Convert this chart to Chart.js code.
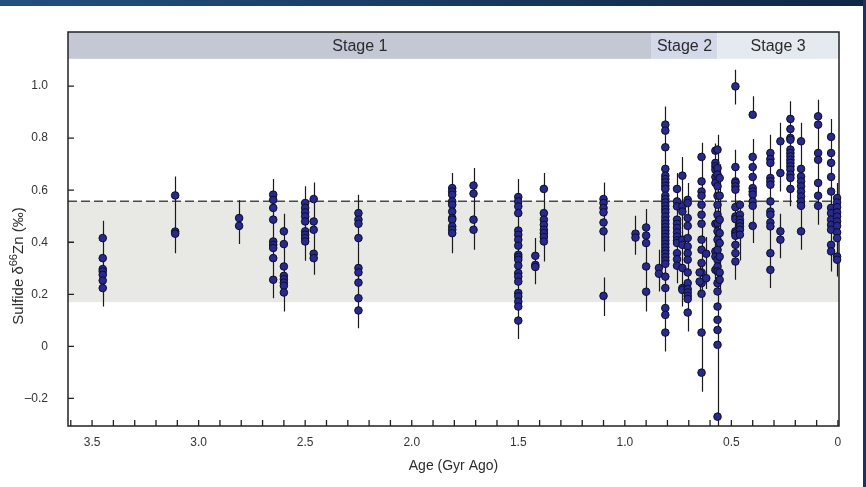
<!DOCTYPE html>
<html>
<head>
<meta charset="utf-8">
<script src="https://cdn.jsdelivr.net/npm/chart.js@4.4.0/dist/chart.umd.min.js"></script>
<style>
  html, body { margin: 0; padding: 0; background: #fff; }
  #wrap { position: relative; width: 866px; height: 487px; overflow: hidden; }
  #topbar { position: absolute; left: 0; top: 0; width: 866px; height: 6px; background: linear-gradient(to right, #21507f, #0f2647); }
  #sidebar { position: absolute; right: 0; top: 0; width: 3px; height: 487px; background: #16365f; }
</style>
</head>
<body>
<div id="wrap">
  <canvas id="zincChart" width="866" height="487"></canvas>
  <div id="topbar"></div>
  <div id="sidebar"></div>
</div>
<script>
// Edad de cada grupo de muestras (Gyr)
const sampleAges = [3.45, 3.11, 2.81, 2.65, 2.60, 2.50, 2.46, 2.25, 1.81, 1.71, 1.50, 1.42, 1.38, 1.10,
  0.95, 0.90, 0.84, 0.81, 0.755, 0.73, 0.705, 0.64, 0.649, 0.618, 0.575, 0.565, 0.555,
  0.481, 0.46, 0.40, 0.317, 0.27, 0.223, 0.173, 0.093, 0.032, 0.004];

// δ66Zn de cada grupo
const sampleValues = [
  [0.416, 0.339, 0.297, 0.288, 0.275, 0.253, 0.224],
  [0.58, 0.441, 0.433],
  [0.493, 0.463],
  [0.583, 0.563, 0.532, 0.487, 0.403, 0.39, 0.378, 0.339, 0.256],
  [0.442, 0.393, 0.307, 0.271, 0.258, 0.245, 0.233, 0.207],
  [0.551, 0.532, 0.515, 0.499, 0.48, 0.442, 0.429, 0.416, 0.403],
  [0.566, 0.48, 0.448, 0.356, 0.339],
  [0.512, 0.487, 0.471, 0.416, 0.301, 0.284, 0.245, 0.185, 0.138],
  [0.608, 0.595, 0.583, 0.557, 0.544, 0.518, 0.493, 0.487, 0.461, 0.448, 0.435],
  [0.618, 0.587, 0.487, 0.448],
  [0.574, 0.557, 0.538, 0.512, 0.445, 0.429, 0.41, 0.387, 0.352, 0.343, 0.333, 0.31, 0.282, 0.268, 0.249, 0.205, 0.192, 0.172, 0.153, 0.099],
  [0.348, 0.313, 0.305],
  [0.605, 0.512, 0.487, 0.467, 0.448, 0.435, 0.42, 0.403],
  [0.566, 0.551, 0.532, 0.515, 0.476, 0.442, 0.194],
  [0.433, 0.418],
  [0.457, 0.426, 0.397, 0.307, 0.21],
  [0.301, 0.279],
  [0.852, 0.829, 0.765, 0.682, 0.656, 0.643, 0.63, 0.617, 0.605, 0.579, 0.566, 0.553, 0.54, 0.527, 0.515, 0.499, 0.484, 0.471, 0.458, 0.445, 0.433, 0.42, 0.407, 0.394, 0.381, 0.368, 0.356, 0.343, 0.33, 0.317, 0.268, 0.224, 0.147, 0.121, 0.053],
  [0.605, 0.557, 0.538, 0.487, 0.471, 0.455, 0.438, 0.422, 0.407, 0.397, 0.358, 0.335, 0.31],
  [0.656, 0.538, 0.518, 0.41, 0.39, 0.301, 0.224, 0.217],
  [0.563, 0.551, 0.493, 0.463, 0.416, 0.384, 0.358, 0.333, 0.284, 0.243, 0.22, 0.207, 0.194, 0.182, 0.13],
  [0.728, 0.634, 0.595, 0.579, 0.544, 0.506, 0.471, 0.41, 0.371, 0.32, 0.284, 0.243, 0.202, 0.053, -0.101],
  [0.284, 0.249],
  [0.356, 0.262],
  [0.752, 0.705, 0.692, 0.679, 0.651, 0.628, 0.471, 0.365, 0.345, 0.294],
  [0.756, 0.685, 0.66, 0.615, 0.579, 0.544, 0.506, 0.474, 0.442, 0.41, 0.371, 0.333, 0.307, 0.288, 0.243, 0.211, 0.153, 0.102, 0.063, 0.006, -0.27],
  [0.647, 0.579, 0.487, 0.435, 0.397, 0.345, 0.284, 0.256],
  [0.999, 0.689, 0.634, 0.628, 0.615, 0.602, 0.535, 0.499, 0.489, 0.442, 0.435, 0.425, 0.39, 0.358, 0.326],
  [0.544, 0.506, 0.487, 0.474, 0.461, 0.448, 0.429],
  [0.89, 0.728, 0.689, 0.651, 0.608, 0.595, 0.583, 0.557, 0.54, 0.463],
  [0.743, 0.72, 0.705, 0.647, 0.634, 0.621, 0.557, 0.518, 0.506, 0.476, 0.461, 0.358, 0.294],
  [0.788, 0.666, 0.442, 0.41],
  [0.874, 0.835, 0.801, 0.794, 0.756, 0.743, 0.73, 0.717, 0.705, 0.692, 0.679, 0.66, 0.647, 0.605],
  [0.788, 0.682, 0.653, 0.634, 0.615, 0.595, 0.576, 0.557, 0.54, 0.442],
  [0.884, 0.852, 0.743, 0.717, 0.628, 0.579, 0.54],
  [0.805, 0.743, 0.705, 0.651, 0.595, 0.532, 0.512, 0.487, 0.467, 0.448, 0.39, 0.365],
  [0.57, 0.553, 0.535, 0.515, 0.499, 0.48, 0.463, 0.438, 0.416, 0.345, 0.333]
];

// Barras de error: [edad, mínimo, máximo]
const errorBars = [
  [3.45, 0.153, 0.483], [3.11, 0.358, 0.653], [2.81, 0.393, 0.561], [2.65, 0.185, 0.643],
  [2.60, 0.134, 0.51], [2.50, 0.329, 0.615], [2.46, 0.275, 0.63], [2.25, 0.07, 0.583],
  [1.81, 0.358, 0.666], [1.71, 0.371, 0.685], [1.50, 0.028, 0.643], [1.42, 0.239, 0.416],
  [1.38, 0.326, 0.666], [1.10, 0.365, 0.63], [1.10, 0.117, 0.265], [0.95, 0.352, 0.502],
  [0.90, 0.134, 0.528], [0.84, 0.211, 0.371], [0.81, -0.02, 0.922], [0.755, 0.243, 0.666],
  [0.73, 0.153, 0.728], [0.705, 0.057, 0.628], [0.64, -0.174, 0.782], [0.649, 0.2, 0.33],
  [0.618, 0.22, 0.42], [0.575, 0.25, 0.78], [0.565, -0.35, 0.813], [0.555, 0.22, 0.70],
  [0.481, 0.929, 1.063], [0.481, 0.256, 0.756], [0.46, 0.33, 0.56], [0.40, 0.878, 0.961],
  [0.40, 0.397, 0.797], [0.317, 0.224, 0.813], [0.27, 0.595, 0.859], [0.27, 0.339, 0.51],
  [0.223, 0.538, 0.942], [0.173, 0.371, 0.859], [0.093, 0.467, 0.948], [0.032, 0.288, 0.874],
  [0.004, 0.268, 0.628]
];

const stageNames = ['Stage 1', 'Stage 2', 'Stage 3'];
const stageBounds = [[3.613, 0.874], [0.874, 0.566], [0.566, -0.005]];
const stageColors = ['#c4c8d4', '#d3d9e9', '#e5e9f0'];
const stageBandFloor = 1.105;
const modernRange = [0.17, 0.558];
const dashedLevel = 0.558;

const xTickValues = [0, 0.1, 0.2, 0.3, 0.4, 0.5, 0.6, 0.7, 0.8, 0.9, 1.0, 1.1, 1.2, 1.3, 1.4, 1.5, 1.6, 1.7, 1.8,
  1.9, 2.0, 2.1, 2.2, 2.3, 2.4, 2.5, 2.6, 2.7, 2.8, 2.9, 3.0, 3.1, 3.2, 3.3, 3.4, 3.5, 3.6];
const xLabelValues = [3.5, 3.0, 2.5, 2.0, 1.5, 1.0, 0.5, 0];
const xLabelTexts = ['3.5', '3.0', '2.5', '2.0', '1.5', '1.0', '0.5', '0'];
const yTickValues = [-0.2, 0, 0.2, 0.4, 0.6, 0.8, 1.0];
const yTickTexts = ['\u20130.2', '0', '0.2', '0.4', '0.6', '0.8', '1.0'];

const fontFamily = "'Liberation Sans Narrow', 'Arial Narrow', 'Liberation Sans', Arial, sans-serif";
Chart.defaults.font.family = fontFamily;

const points = sampleAges.flatMap((age, i) => sampleValues[i].map(v => ({ x: age, y: v })));

// Fondo, franjas de etapas, marco, marcas y barras de error
const backdrop = {
  id: 'backdrop',
  beforeDatasetsDraw(chart) {
    const { ctx, chartArea: a, scales: { x, y } } = chart;
    ctx.save();
    const yTop = y.getPixelForValue(modernRange[1]);
    const yBot = y.getPixelForValue(modernRange[0]);
    ctx.fillStyle = '#e8e8e4';
    ctx.fillRect(a.left, yTop, a.right - a.left, yBot - yTop);

    ctx.strokeStyle = '#4a4a4a';
    ctx.lineWidth = 1.5;
    ctx.setLineDash([9, 4]);
    const yd = y.getPixelForValue(dashedLevel);
    ctx.beginPath();
    ctx.moveTo(a.left, yd);
    ctx.lineTo(a.right, yd);
    ctx.stroke();
    ctx.setLineDash([]);

    const yb = y.getPixelForValue(stageBandFloor);
    stageBounds.forEach((b, i) => {
      const x0 = x.getPixelForValue(b[0]);
      const x1 = x.getPixelForValue(b[1]);
      ctx.fillStyle = stageColors[i];
      ctx.fillRect(x0, a.top, x1 - x0, yb - a.top);
      ctx.fillStyle = '#2b2b2b';
      ctx.font = '16px ' + fontFamily;
      ctx.textAlign = 'center';
      ctx.textBaseline = 'middle';
      ctx.fillText(stageNames[i], (x0 + x1) / 2, (a.top + yb) / 2 + 1);
    });

    ctx.strokeStyle = '#222';
    ctx.lineWidth = 1.5;
    ctx.strokeRect(a.left, a.top, a.right - a.left, a.bottom - a.top);

    ctx.lineWidth = 1.3;
    ctx.beginPath();
    xTickValues.forEach(v => {
      const px = x.getPixelForValue(v);
      ctx.moveTo(px, a.bottom);
      ctx.lineTo(px, a.bottom - 6);
    });
    yTickValues.forEach(v => {
      const py = y.getPixelForValue(v);
      ctx.moveTo(a.left, py);
      ctx.lineTo(a.left + 6, py);
    });
    ctx.stroke();

    ctx.beginPath();
    ctx.rect(a.left, a.top, a.right - a.left, a.bottom - a.top);
    ctx.clip();
    ctx.strokeStyle = '#1a1a1a';
    ctx.lineWidth = 1.2;
    ctx.beginPath();
    errorBars.forEach(([age, lo, hi]) => {
      const px = Math.round(x.getPixelForValue(age)) + 0.5;
      ctx.moveTo(px, y.getPixelForValue(lo));
      ctx.lineTo(px, y.getPixelForValue(hi));
    });
    ctx.stroke();
    ctx.restore();
  },
  afterDraw(chart) {
    // Título del eje Y con superíndice
    const { ctx } = chart;
    ctx.save();
    ctx.translate(19, 266);
    ctx.rotate(-Math.PI / 2);
    ctx.fillStyle = '#2b2b2b';
    ctx.textBaseline = 'middle';
    ctx.textAlign = 'left';
    const big = '15px ' + fontFamily, small = '11px ' + fontFamily;
    const parts = [['Sulfide \u03b4', big, 0], ['66', small, -5], ['Zn (\u2030)', big, 0]];
    let total = 0;
    parts.forEach(p => { ctx.font = p[1]; total += ctx.measureText(p[0]).width; });
    let cx = -total / 2;
    parts.forEach(p => {
      ctx.font = p[1];
      ctx.fillText(p[0], cx, p[2]);
      cx += ctx.measureText(p[0]).width;
    });
    ctx.restore();
  }
};

const ctx = document.getElementById('zincChart').getContext('2d');
new Chart(ctx, {
  type: 'scatter',
  data: {
    datasets: [{
      data: points,
      backgroundColor: '#27298c',
      borderColor: '#0d0d2a',
      borderWidth: 1,
      pointRadius: 3.8,
      clip: false
    }]
  },
  options: {
    responsive: false,
    animation: false,
    layout: { padding: { top: 32, right: 27, left: 0, bottom: 0 } },
    plugins: { legend: { display: false }, tooltip: { enabled: false } },
    scales: {
      x: {
        type: 'linear',
        reverse: true,
        min: -0.005,
        max: 3.613,
        afterBuildTicks: s => { s.ticks = xTickValues.map(v => ({ value: v })); },
        afterFit: s => { s.height = 61; },
        grid: { display: false, drawTicks: false },
        border: { display: false },
        ticks: {
          autoSkip: false,
          maxRotation: 0,
          padding: 9,
          color: '#333',
          font: { size: 12 },
          callback: v => {
            const i = xLabelValues.findIndex(l => Math.abs(l - v) < 1e-6);
            return i >= 0 ? xLabelTexts[i] : '';
          }
        },
        title: {
          display: true,
          text: 'Age (Gyr Ago)',
          color: '#2b2b2b',
          font: { size: 14 },
          padding: { top: 0, bottom: 12 }
        }
      },
      y: {
        min: -0.306,
        max: 1.208,
        afterBuildTicks: s => { s.ticks = yTickValues.map(v => ({ value: v })); },
        afterFit: s => { s.width = 68; },
        grid: { display: false, drawTicks: false },
        border: { display: false },
        ticks: {
          padding: 20,
          color: '#333',
          font: { size: 12 },
          callback: v => {
            const i = yTickValues.findIndex(l => Math.abs(l - v) < 1e-6);
            return i >= 0 ? yTickTexts[i] : '';
          }
        }
      }
    }
  },
  plugins: [backdrop]
});
</script>
</body>
</html>
